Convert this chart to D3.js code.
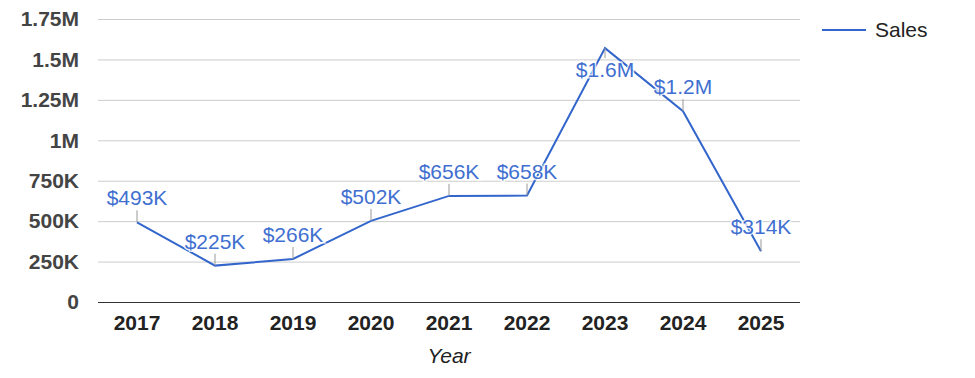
<!DOCTYPE html>
<html>
<head>
<meta charset="utf-8">
<script src="https://cdn.jsdelivr.net/npm/d3@7"></script>
<style>
  body { margin: 0; background: #fff; }
  text { font-family: Arial, "Liberation Sans", sans-serif; }
</style>
</head>
<body>
<svg id="drawing_region"></svg>
<script>
var years = ['2017', '2018', '2019', '2020', '2021', '2022', '2023', '2024', '2025'];
var sales = [493000, 225000, 266000, 502000, 656000, 658000, 1570000, 1180000, 314000];
var labels = ['$493K', '$225K', '$266K', '$502K', '$656K', '$658K', '$1.6M', '$1.2M', '$314K'];
var yTicks = [0, 250000, 500000, 750000, 1000000, 1250000, 1500000, 1750000];
var yTickLabels = ['0', '250K', '500K', '750K', '1M', '1.25M', '1.5M', '1.75M'];

var width = 975;
var height = 378;
var margin = {top: 19, right: 175, bottom: 76, left: 98};

var svg = d3.select('#drawing_region')
    .attr('width', width)
    .attr('height', height);

var chart = svg.append('g')
    .attr('transform', `translate(${margin.left}, ${margin.top})`);

const inner_width = width - margin.left - margin.right;
const inner_height = height - margin.top - margin.bottom;

const xscale = d3.scaleBand()
      .domain(years)
      .range([0, inner_width]);

const yscale = d3.scaleLinear()
      .domain([0, 1750000])
      .range([inner_height, 0]);

// gridlines + y labels
const yaxis = d3.axisLeft(yscale)
      .tickValues(yTicks)
      .tickSize(-inner_width)
      .tickPadding(19)
      .tickFormat((d, i) => yTickLabels[i]);

const yaxis_group = chart.append('g').call(yaxis);
yaxis_group.select('.domain').remove();
yaxis_group.selectAll('.tick line')
    .attr('stroke', d => d === 0 ? '#333' : '#cccccc')
    .attr('stroke-width', 1);
yaxis_group.selectAll('.tick text')
    .attr('fill', '#444')
    .attr('font-size', 21)
    .attr('font-weight', 'bold')
    .attr('font-family', 'Arial, "Liberation Sans", sans-serif');

// x axis labels
const xaxis = d3.axisBottom(xscale)
      .tickSize(0)
      .tickPadding(13);

const xaxis_group = chart.append('g')
      .attr('transform', `translate(0, ${inner_height})`)
      .call(xaxis);
xaxis_group.select('.domain').remove();
xaxis_group.selectAll('.tick text')
    .attr('fill', '#222')
    .attr('font-size', 21)
    .attr('font-weight', 'bold')
    .attr('font-family', 'Arial, "Liberation Sans", sans-serif');

// x axis title
chart.append('text')
    .attr('x', inner_width / 2)
    .attr('y', inner_height + 61)
    .attr('text-anchor', 'middle')
    .attr('font-size', 21)
    .attr('font-style', 'italic')
    .attr('fill', '#222')
    .text('Year');

// line
const cx = d => xscale(d) + xscale.bandwidth() / 2;
const line = d3.line()
      .x((d, i) => cx(years[i]))
      .y(d => yscale(d));

chart.append('path')
    .datum(sales)
    .attr('fill', 'none')
    .attr('stroke', '#3366cc')
    .attr('stroke-width', 2)
    .attr('d', line);

// annotations: leader line + label (below the point when no room above)
const ann = chart.selectAll('.ann').data(sales).enter()
    .append('g')
    .attr('class', 'ann');

ann.append('line')
    .attr('x1', (d, i) => cx(years[i]))
    .attr('x2', (d, i) => cx(years[i]))
    .attr('y1', d => yscale(d))
    .attr('y2', d => d > 1500000 ? yscale(d) + 10 : yscale(d) - 12)
    .attr('stroke', '#999')
    .attr('stroke-width', 1);

ann.append('text')
    .attr('x', (d, i) => cx(years[i]))
    .attr('y', d => d > 1500000 ? yscale(d) + 29 : yscale(d) - 17)
    .attr('text-anchor', 'middle')
    .attr('font-size', 21)
    .attr('fill', '#3f6fd0')
    .attr('stroke', '#fff')
    .attr('stroke-width', 3)
    .attr('stroke-opacity', 0.8)
    .attr('paint-order', 'stroke')
    .text((d, i) => labels[i]);

// legend
const legend = svg.append('g')
    .attr('transform', 'translate(822, 30)');
legend.append('line')
    .attr('x1', 0).attr('x2', 44)
    .attr('y1', 0).attr('y2', 0)
    .attr('stroke', '#3366cc')
    .attr('stroke-width', 2);
legend.append('text')
    .attr('x', 53)
    .attr('y', 7)
    .attr('font-size', 21)
    .attr('fill', '#222')
    .text('Sales');
</script>
</body>
</html>
